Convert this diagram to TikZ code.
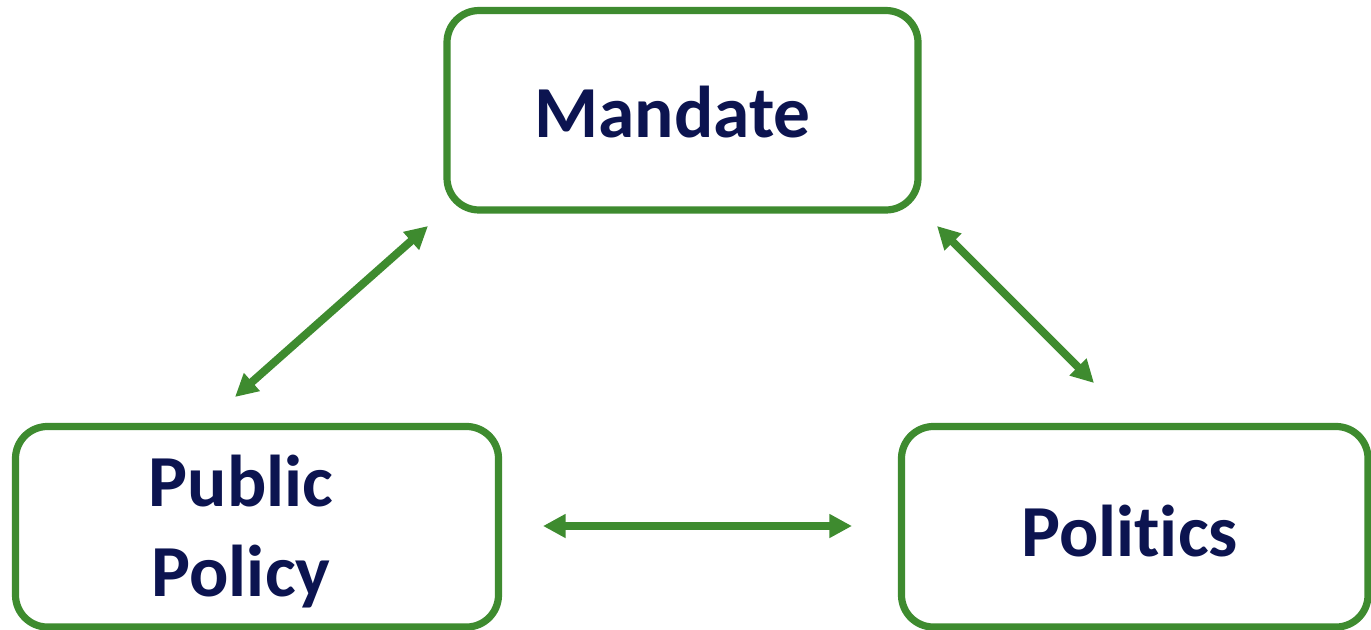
\documentclass[tikz,border=0pt]{standalone}
\usepackage{fontspec}
\setmainfont{Carlito}[RawFeature={-liga;-clig;-dlig}]
\usetikzlibrary{arrows.meta}
\definecolor{boxgreen}{RGB}{62,139,47}
\definecolor{navy}{RGB}{12,20,80}
\begin{document}
\begin{tikzpicture}[x=0.75pt,y=-0.75pt,
  box/.style={draw=boxgreen,line width=5.4pt,rounded corners=24pt,inner sep=0pt,fill=white},
  lbl/.style={text=navy,font=\bfseries\fontsize{55}{67.5}\selectfont,align=center,inner sep=0pt,anchor=base},
  link/.style={draw=boxgreen,line width=6pt,{Triangle[length=17pt,width=17pt]}-{Triangle[length=17pt,width=17pt]}}]
\useasboundingbox (0,0) rectangle (1371,629);
\node[box,minimum width=353.25pt,minimum height=149.6pt] (mandate) at (682.5,110.25) {};
\node[box,minimum width=362.25pt,minimum height=150.4pt] (policy) at (257,526.75) {};
\node[box,minimum width=349.9pt,minimum height=150.4pt] (politics) at (1134.75,526.75) {};
\node[lbl] (tm) at (672.5,137) {Mandate};
\node[lbl] (tp) at (241,596) {Public\\Policy};
\node[lbl] (tq) at (1129.5,556) {Politics};
\coordinate (l1) at (235,397);
\coordinate (l2) at (428,226);
\coordinate (r1) at (937,226);
\coordinate (r2) at (1094,383);
\coordinate (h1) at (543,526);
\coordinate (h2) at (852,526);
\draw[link] (l1) -- (l2);
\draw[link] (r1) -- (r2);
\draw[link] (h1) -- (h2);
\end{tikzpicture}
\end{document}
